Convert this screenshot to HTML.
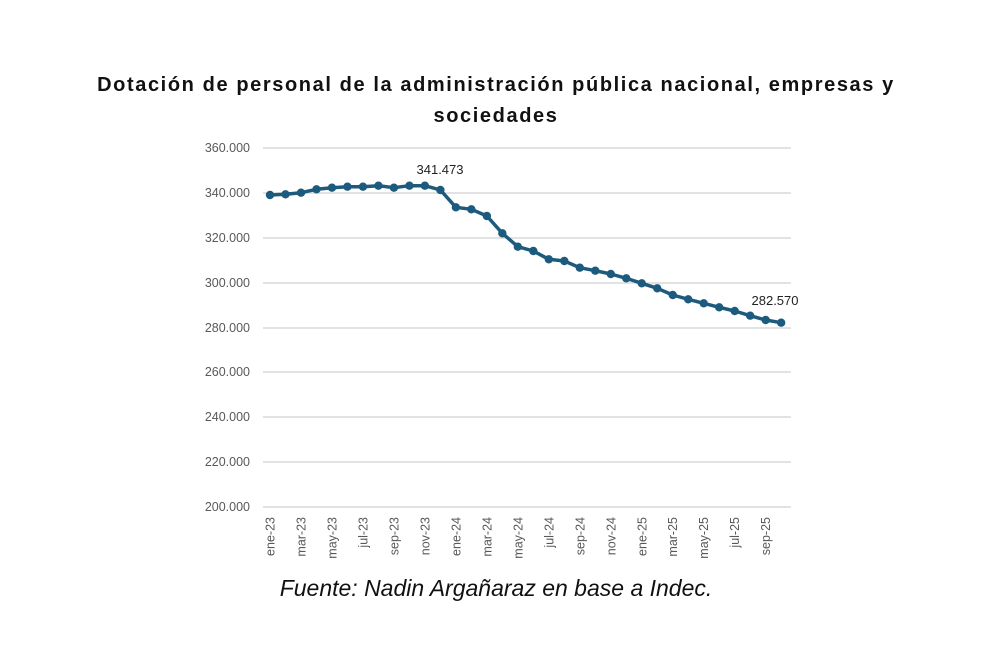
<!DOCTYPE html>
<html><head><meta charset="utf-8"><style>
body{margin:0;background:#fff;}
svg{display:block;}
</style></head><body>
<svg width="992" height="660" viewBox="0 0 992 660" xmlns="http://www.w3.org/2000/svg" font-family="Liberation Sans, sans-serif">
<rect width="992" height="660" fill="#fff"/>
<text x="496" y="91" text-anchor="middle" font-size="20" font-weight="bold" fill="#111" letter-spacing="1.6">Dotación de personal de la administración pública nacional, empresas y</text>
<text x="496" y="122" text-anchor="middle" font-size="20" font-weight="bold" fill="#111" letter-spacing="1.6">sociedades</text>
<g stroke="#d9d9d9" stroke-width="1.5">
<line x1="263" x2="791" y1="148" y2="148"/><line x1="263" x2="791" y1="193" y2="193"/>
<line x1="263" x2="791" y1="238" y2="238"/><line x1="263" x2="791" y1="283" y2="283"/>
<line x1="263" x2="791" y1="328" y2="328"/><line x1="263" x2="791" y1="372" y2="372"/>
<line x1="263" x2="791" y1="417" y2="417"/><line x1="263" x2="791" y1="462" y2="462"/>
<line x1="263" x2="791" y1="507" y2="507"/>
</g>
<g font-size="12.5" fill="#595959" text-anchor="end">
<text x="250" y="152">360.000</text><text x="250" y="197">340.000</text>
<text x="250" y="242">320.000</text><text x="250" y="287">300.000</text>
<text x="250" y="332">280.000</text><text x="250" y="376">260.000</text>
<text x="250" y="421">240.000</text><text x="250" y="466">220.000</text>
<text x="250" y="511">200.000</text>
</g>
<g id="xl" font-size="12.5" fill="#595959" text-anchor="end"></g>
<polyline id="ln" fill="none" stroke="#1c5a7e" stroke-width="3.5" stroke-linejoin="round"/>
<g id="dots" fill="#1c5a7e"></g>
<text x="440" y="174" text-anchor="middle" font-size="13" fill="#222">341.473</text>
<text x="775" y="305" text-anchor="middle" font-size="13" fill="#222">282.570</text>
<text x="496" y="596" text-anchor="middle" font-size="23" font-style="italic" fill="#111">Fuente: Nadin Argañaraz en base a Indec.</text>
</svg>
<script>
var ys=[195,194.3,192.7,189.3,187.7,186.7,186.7,185.7,187.7,185.7,185.7,190,207.3,209.3,216,233.3,246.7,251,259.3,261,267.7,270.7,274,278.3,283.3,288.3,295,299.3,303.3,307.3,311,315.7,320,322.7];
var ns="http://www.w3.org/2000/svg",pts=[],d=document.getElementById('dots');
ys.forEach(function(y,i){var x=270+i*15.49;pts.push(x+','+y);var c=document.createElementNS(ns,'circle');c.setAttribute('cx',x);c.setAttribute('cy',y);c.setAttribute('r',4.2);d.appendChild(c);});
document.getElementById('ln').setAttribute('points',pts.join(' '));
var labs=['ene-23','mar-23','may-23','jul-23','sep-23','nov-23','ene-24','mar-24','may-24','jul-24','sep-24','nov-24','ene-25','mar-25','may-25','jul-25','sep-25'];
var g=document.getElementById('xl');
labs.forEach(function(l,i){var x=270+i*2*15.49+4.5;var t=document.createElementNS(ns,'text');t.setAttribute('transform','translate('+x+',517) rotate(-90)');t.textContent=l;g.appendChild(t);});
</script>
</body></html>
